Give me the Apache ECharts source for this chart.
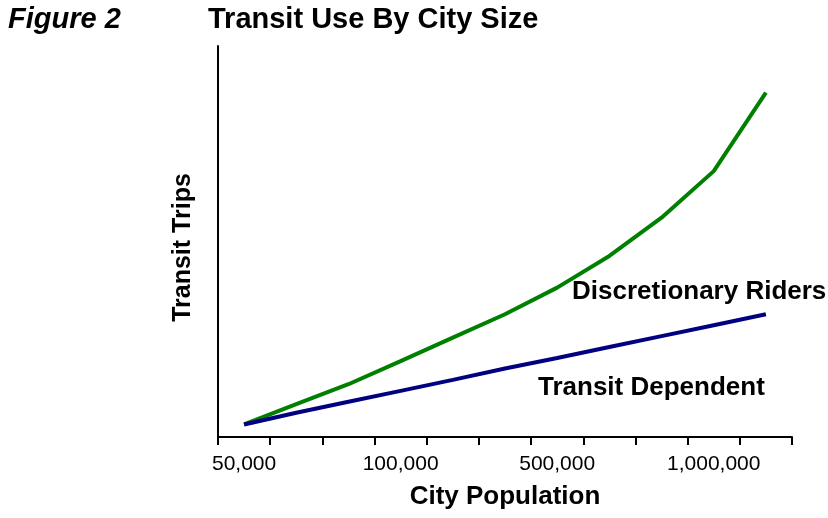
<!DOCTYPE html>
<html>
<head>
<meta charset="utf-8">
<script src="https://cdn.jsdelivr.net/npm/echarts@6/dist/echarts.min.js"></script>
<style>
  html, body { margin: 0; padding: 0; background: #fff; }
  #chart { width: 828px; height: 518px; }
</style>
</head>
<body>
<div id="chart"></div>
<script>
// city size steps along the x axis (only some are labelled)
const categories = ['50,000', '', '', '100,000', '', '', '500,000', '', '', '1,000,000', '']
// transit trips (axis 0..100)
const discretionary = [3.2, 8.4, 13.5, 19.4, 25.4, 31.4, 38.2, 46.3, 56.1, 68.0, 88.1]
const dependent = [3.2, 6.2, 9.0, 11.8, 14.6, 17.5, 20.2, 23.0, 25.8, 28.6, 31.4]

const font = '"Liberation Sans", Arial, sans-serif'
const chart = echarts.init(document.getElementById('chart'))

chart.setOption({
  animation: false,
  grid: { left: 218, right: 36, top: 46, bottom: 81 },
  graphic: [
    {
      type: 'text', left: 8, top: 5,
      style: { text: 'Figure 2', font: 'italic bold 29px ' + font, fill: '#000' }
    },
    {
      type: 'text', left: 208, top: 5,
      style: { text: 'Transit Use By City Size', font: 'bold 29px ' + font, fill: '#000' }
    },
    {
      type: 'text', left: 572, top: 279,
      style: { text: 'Discretionary Riders', font: 'bold 26px ' + font, fill: '#000' }
    },
    {
      type: 'text', left: 538, top: 375,
      style: { text: 'Transit Dependent', font: 'bold 26px ' + font, fill: '#000' }
    }
  ],
  xAxis: {
    type: 'category',
    data: categories,
    boundaryGap: true,
    name: 'City Population',
    nameLocation: 'middle',
    nameGap: 47,
    nameTextStyle: { fontFamily: font, fontWeight: 'bold', fontSize: 26, color: '#000' },
    axisLine: { lineStyle: { color: '#000', width: 2 } },
    axisTick: { show: true, interval: 0, length: 8, lineStyle: { color: '#000', width: 2 } },
    axisLabel: { interval: 0, margin: 17, fontFamily: font, fontSize: 21, color: '#000' },
    splitLine: { show: false }
  },
  yAxis: {
    type: 'value',
    min: 0,
    max: 100,
    name: 'Transit Trips',
    nameLocation: 'middle',
    nameGap: 22,
    nameTextStyle: {
      fontFamily: font, fontWeight: 'bold', fontSize: 25, color: '#000',
      padding: [0, 12, 0, 0]
    },
    axisLine: { show: true, lineStyle: { color: '#000', width: 2 } },
    axisTick: { show: false },
    axisLabel: { show: false },
    splitLine: { show: false }
  },
  series: [
    {
      name: 'Discretionary Riders',
      type: 'line',
      data: discretionary,
      showSymbol: false,
      color: '#008000',
      lineStyle: { width: 4, color: '#008000' }
    },
    {
      name: 'Transit Dependent',
      type: 'line',
      data: dependent,
      showSymbol: false,
      color: '#000080',
      lineStyle: { width: 4, color: '#000080' }
    }
  ]
})
</script>
</body>
</html>
